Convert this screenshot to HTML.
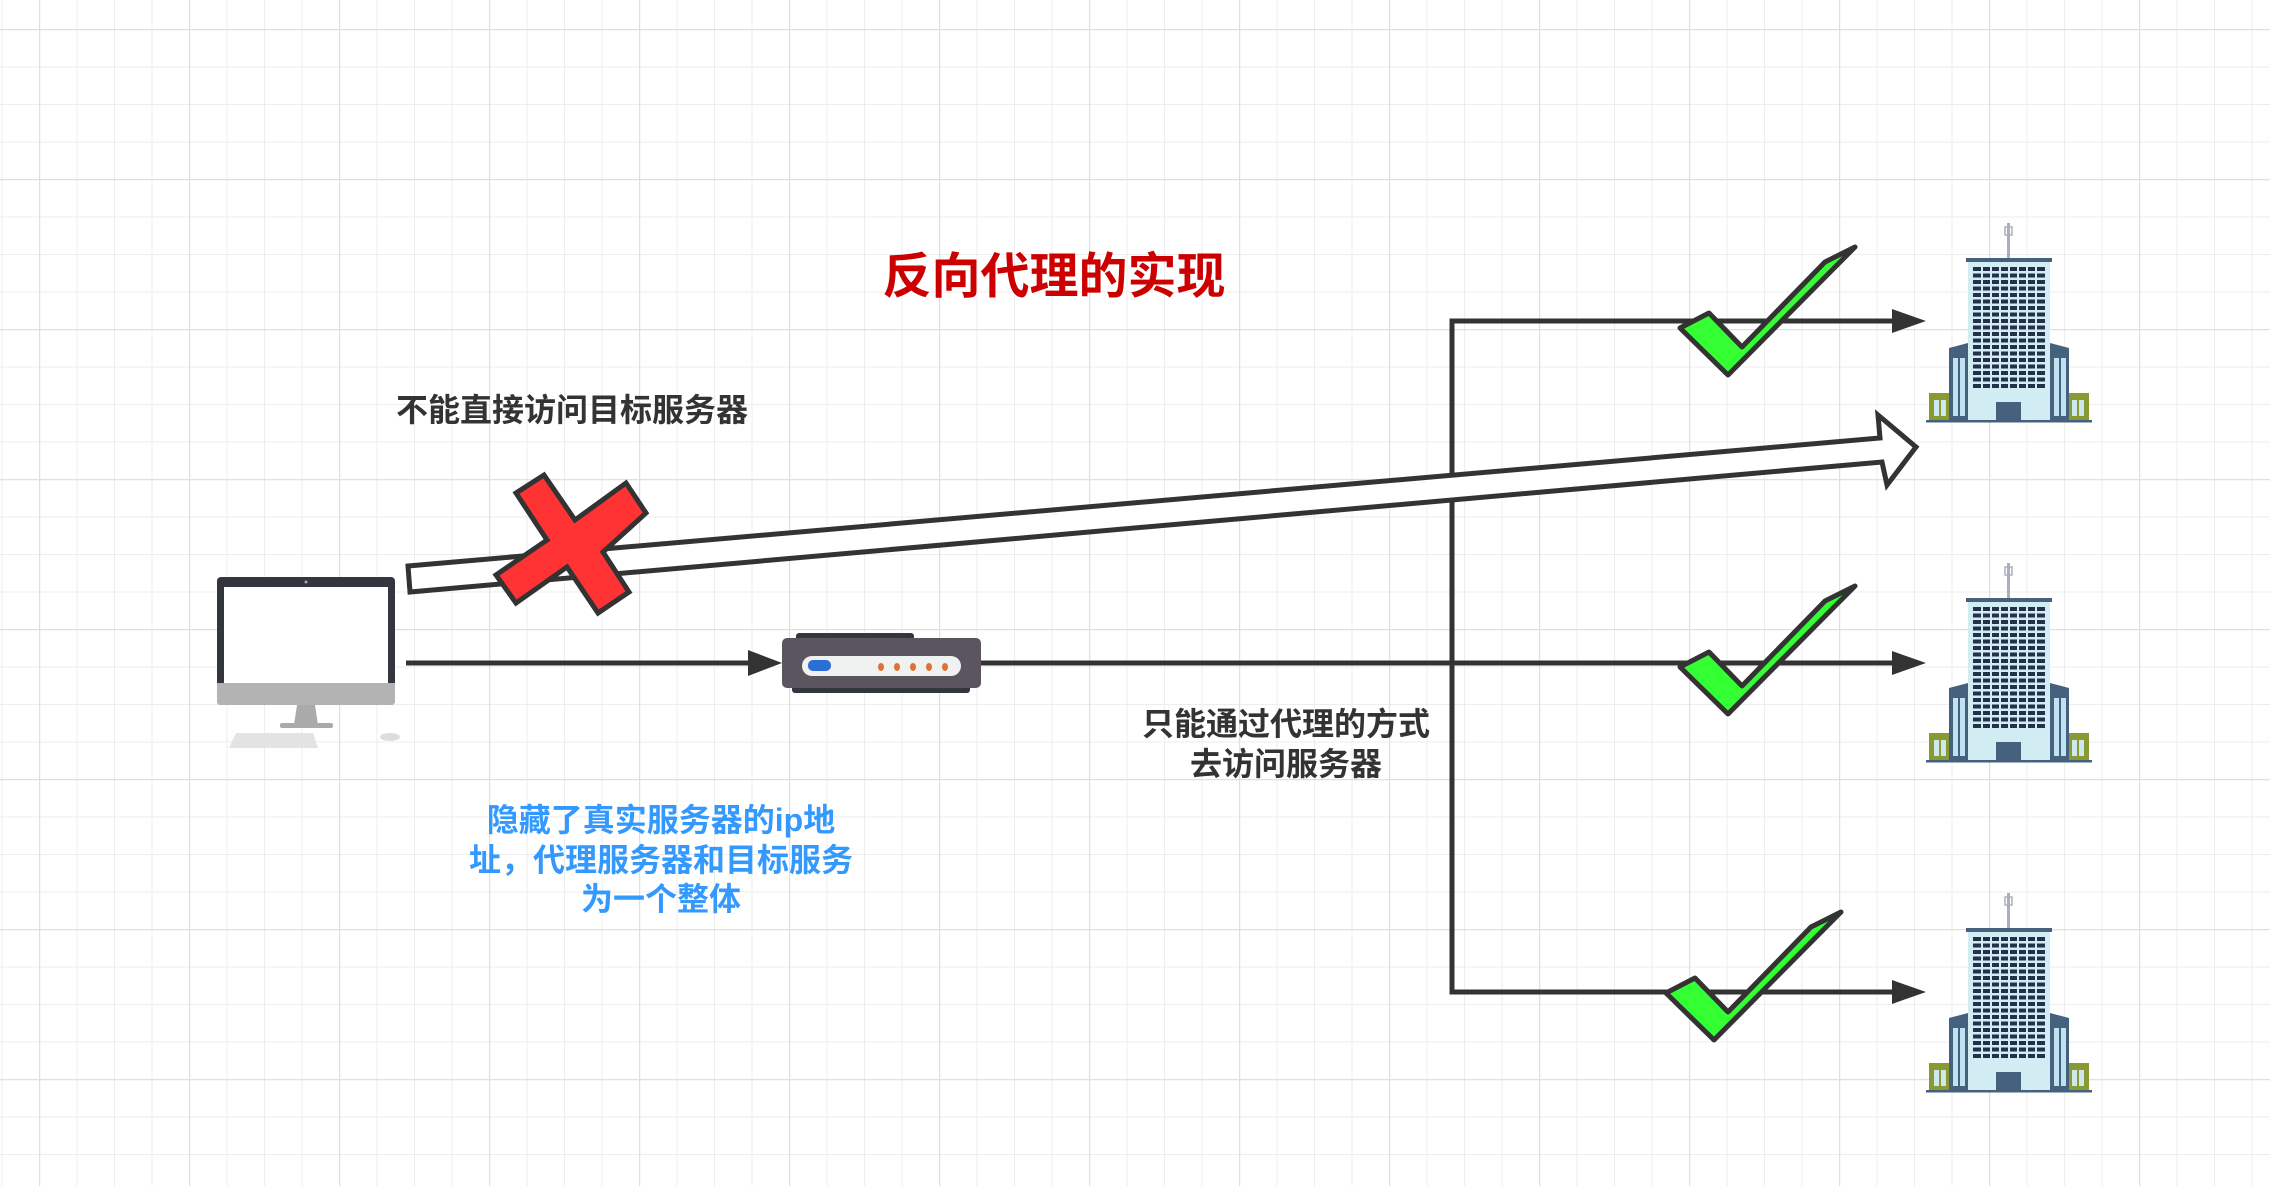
<!DOCTYPE html>
<html><head><meta charset="utf-8"><style>
html,body{margin:0;padding:0;background:#fff;}
svg{display:block}
text{font-family:"Liberation Sans","Noto Sans CJK SC",sans-serif;font-weight:bold;}
</style></head><body>
<svg width="2270" height="1186" viewBox="0 0 2270 1186" xmlns="http://www.w3.org/2000/svg">
<defs>
<pattern id="minor" x="1.5" y="29" width="37.5" height="37.5" patternUnits="userSpaceOnUse">
<path d="M0 0H37.5M0 0V37.5" stroke="#ededed" stroke-width="2" fill="none"/>
</pattern>
<pattern id="major" x="39" y="29" width="150" height="150" patternUnits="userSpaceOnUse">
<path d="M0 0H150M0 0V150" stroke="#e0e0e0" stroke-width="2.5" fill="none"/>
</pattern>
<g id="bld">
<rect x="81" y="0" width="3" height="37" fill="#aab0bb"/>
<rect x="79" y="4" width="7" height="8" fill="none" stroke="#aab0bb" stroke-width="1.5"/>
<rect x="3" y="170" width="22" height="29" fill="#8a9a32"/>
<rect x="141" y="170" width="22" height="29" fill="#8a9a32"/>
<rect x="8" y="177" width="5" height="16" fill="#cfe8f0"/><rect x="15" y="177" width="5" height="16" fill="#cfe8f0"/>
<rect x="146" y="177" width="5" height="16" fill="#cfe8f0"/><rect x="153" y="177" width="5" height="16" fill="#cfe8f0"/>
<polygon points="23,125 42,120 42,199 23,199" fill="#45617e"/>
<polygon points="124,120 143,125 143,199 124,199" fill="#45617e"/>
<rect x="27" y="135" width="5" height="58" fill="#bfe3f0"/><rect x="34" y="135" width="5" height="58" fill="#bfe3f0"/>
<rect x="128" y="135" width="5" height="58" fill="#bfe3f0"/><rect x="135" y="135" width="5" height="58" fill="#bfe3f0"/>
<rect x="42" y="37" width="82" height="162" fill="#d2ecf4"/>
<rect x="40" y="35" width="86" height="4" fill="#45617e"/>
<g fill="#23324a">
<rect x="47" y="44" width="72" height="4"/><rect x="47" y="50.5" width="72" height="4"/><rect x="47" y="57" width="72" height="4"/><rect x="47" y="63.5" width="72" height="4"/><rect x="47" y="70" width="72" height="4"/><rect x="47" y="76.5" width="72" height="4"/><rect x="47" y="83" width="72" height="4"/><rect x="47" y="89.5" width="72" height="4"/><rect x="47" y="96" width="72" height="4"/><rect x="47" y="102.5" width="72" height="4"/><rect x="47" y="109" width="72" height="4"/><rect x="47" y="115.5" width="72" height="4"/><rect x="47" y="122" width="72" height="4"/><rect x="47" y="128.5" width="72" height="4"/><rect x="47" y="135" width="72" height="4"/><rect x="47" y="141.5" width="72" height="4"/><rect x="47" y="148" width="72" height="4"/><rect x="47" y="154.5" width="72" height="4"/><rect x="47" y="161" width="72" height="4"/>
</g>
<g fill="#d2ecf4"><rect x="55" y="44" width="2" height="121"/><rect x="64" y="44" width="2" height="121"/><rect x="73" y="44" width="2" height="121"/><rect x="82" y="44" width="2" height="121"/><rect x="91" y="44" width="2" height="121"/><rect x="100" y="44" width="2" height="121"/><rect x="109" y="44" width="2" height="121"/></g>
<rect x="70" y="179" width="25" height="20" fill="#45617e"/>
<rect x="0" y="197" width="166" height="2.5" fill="#45617e"/>
</g>
<g id="chk"><polygon points="0,81 29,66 62,100 145,15 175,0 48,128" fill="#33ff33" stroke="#333" stroke-width="5" stroke-linejoin="round"/></g>
</defs>
<rect width="2270" height="1186" fill="url(#minor)"/>
<rect width="2270" height="1186" fill="url(#major)"/>

<g stroke="#333" stroke-width="5" fill="none">
<line x1="406" y1="663" x2="752" y2="663"/>
<line x1="981" y1="663" x2="1896" y2="663"/>
<polyline points="1896,321 1452,321 1452,992 1896,992"/>
</g>
<g fill="#333">
<polygon points="748,650 782,663 748,676"/>
<polygon points="1892,309 1926,321 1892,333"/>
<polygon points="1892,651 1926,663 1892,675"/>
<polygon points="1892,980 1926,992 1892,1004"/>
</g>

<polygon points="408,566 1880,438 1878,415 1916,447 1887,485 1882,462 410,592" fill="#fff" stroke="#333" stroke-width="5" stroke-linejoin="miter"/>

<polygon points="516,493 544,475 575,520 626,483 646,513 603,552 629,592 598,613 567,567 516,603 496,575 547,540" fill="#ff3333" stroke="#333" stroke-width="5" stroke-linejoin="miter"/>

<rect x="217" y="577" width="178" height="128" rx="4" fill="#33363f"/>
<rect x="217" y="683" width="178" height="22" rx="4" fill="#b3b3b3"/>
<rect x="217" y="683" width="178" height="6" fill="#b3b3b3"/>
<rect x="224" y="587" width="164" height="96" fill="#fff"/>
<circle cx="306" cy="582" r="1.5" fill="#aaa"/>
<polygon points="297,705 315,705 318,725 294,725" fill="#aaa"/>
<rect x="280" y="723" width="53" height="5" rx="2" fill="#aaa"/>
<polygon points="236,733 313,733 318,748 229,748" fill="#e3e3e3"/>
<ellipse cx="390" cy="737" rx="10" ry="4" fill="#ddd"/>

<rect x="796" y="633" width="118" height="8" rx="3" fill="#33363f"/>
<rect x="792" y="684" width="178" height="9" rx="3" fill="#33363f"/>
<rect x="782" y="638" width="199" height="50" rx="5" fill="#5b5560"/>
<rect x="802" y="656" width="159" height="20" rx="10" fill="#f0f2f2"/>
<rect x="808" y="660" width="23" height="11" rx="5" fill="#2a6fd6"/>
<g fill="#e07035"><ellipse cx="881" cy="667" rx="3" ry="4"/><ellipse cx="897" cy="667" rx="3" ry="4"/><ellipse cx="913" cy="667" rx="3" ry="4"/><ellipse cx="929" cy="667" rx="3" ry="4"/><ellipse cx="945" cy="667" rx="3" ry="4"/></g>

<use href="#chk" x="1680" y="247"/>
<use href="#chk" x="1680" y="586"/>
<use href="#chk" x="1666" y="912"/>

<use href="#bld" x="1926" y="223"/>
<use href="#bld" x="1926" y="563"/>
<use href="#bld" x="1926" y="893"/>

<text x="1054" y="293" font-size="49" fill="#cc0000" text-anchor="middle">反向代理的实现</text>
<text x="572" y="421" font-size="32" fill="#333" text-anchor="middle">不能直接访问目标服务器</text>
<text x="1286" y="735" font-size="32" fill="#333" text-anchor="middle">只能通过代理的方式</text>
<text x="1286" y="775" font-size="32" fill="#333" text-anchor="middle">去访问服务器</text>
<g font-size="32" fill="#3399ff" text-anchor="middle">
<text x="661" y="831">隐藏了真实服务器的ip地</text>
<text x="661" y="871">址，代理服务器和目标服务</text>
<text x="661" y="910">为一个整体</text>
</g>
</svg>
</body></html>
